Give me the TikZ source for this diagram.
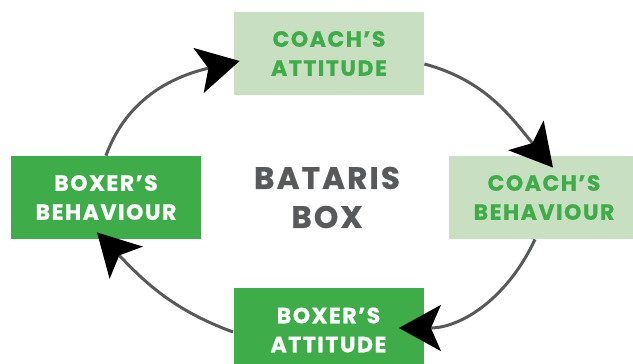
\documentclass[tikz,border=0pt]{standalone}
\usepackage{fontspec}
\setmainfont{Poppins}[BoldFeatures={LetterSpace=7, FakeBold=0.8}]
\usetikzlibrary{arrows.meta}
\definecolor{darkgreen}{HTML}{3FAC4A}
\definecolor{lightgreen}{HTML}{C8DFC1}
\definecolor{linegray}{HTML}{58595B}

\begin{document}
\begin{tikzpicture}[x=0.5pt, y=0.5pt,
  darkbox/.style={fill=darkgreen, text=white, minimum width=95pt, minimum height=41.5pt, inner sep=0pt, align=center, font=\bfseries\fontsize{11}{14.5}\selectfont},
  lightbox/.style={darkbox, fill=lightgreen, text=darkgreen},
  cycle/.style={linegray, line width=1.5pt, -{Stealth[black, length=21pt, width=23pt, inset=5pt]}}]
\useasboundingbox (0,0) rectangle (633,364);

\node[lightbox] (ca) at (329,310.5) {COACH’S\\ATTITUDE};
\node[lightbox] (cb) at (544,166.5) {COACH’S\\BEHAVIOUR};
\node[darkbox] (ba) at (328.5,34) {BOXER’S\\ATTITUDE};
\node[darkbox] (bb) at (106,166.5) {BOXER’S\\BEHAVIOUR};
\node[text=linegray, align=center, font=\bfseries\fontsize{15.5}{19.5}\selectfont] (title) at (327,166.5) {BATARIS\\BOX};

% the cycle
\draw[cycle] (bb.north) to[out=70, in=193] ([xshift=3pt, yshift=-3.75pt]ca.west);
\draw[cycle] ([yshift=-5.25pt]ca.east) to[out=-15, in=130] ([xshift=4.5pt, yshift=-6pt]cb.north);
\draw[cycle] ([xshift=-4.5pt]cb.south) to[out=245, in=0] ([xshift=-12.5pt, yshift=1pt]ba.east);
\draw[cycle] ([yshift=-1pt]ba.west) to[out=160, in=-46] ([xshift=-4.5pt, yshift=3.5pt]bb.south);

\end{tikzpicture}
\end{document}
